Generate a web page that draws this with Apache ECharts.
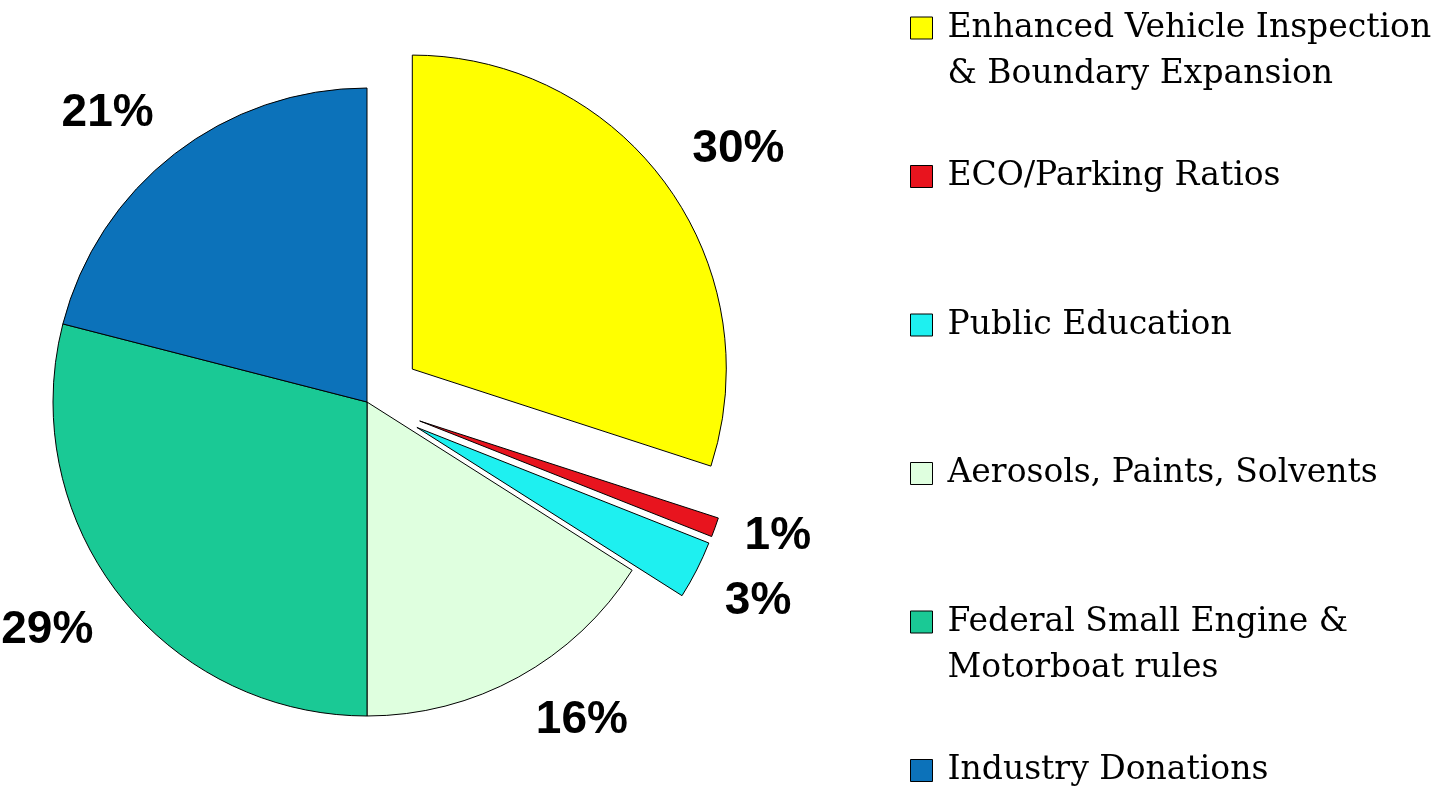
<!DOCTYPE html>
<html>
<head>
<meta charset="utf-8">
<title>Emission reduction shares</title>
<script src="https://cdn.jsdelivr.net/npm/echarts@6/dist/echarts.min.js"></script>
<style>
  html, body { margin: 0; padding: 0; background: #fff; }
  #chart { width: 1443px; height: 791px; }
</style>
</head>
<body>
<div id="chart"></div>
<script>
var categories = [
  'Enhanced Vehicle Inspection & Boundary Expansion',
  'ECO/Parking Ratios',
  'Public Education',
  'Aerosols, Paints, Solvents',
  'Federal Small Engine & Motorboat rules',
  'Industry Donations'
]
var legendLines = [
  ['Enhanced Vehicle Inspection', '& Boundary Expansion'],
  ['ECO/Parking Ratios'],
  ['Public Education'],
  ['Aerosols, Paints, Solvents'],
  ['Federal Small Engine &', 'Motorboat rules'],
  ['Industry Donations']
]
var shares = [30, 1, 3, 16, 29, 21]
var pulledOut = [true, true, true, false, false, false]

var sliceColors = ['#FFFF00', '#E8141E', '#1EF0F0', '#DFFFDF', '#1AC995', '#0C72BA']
var pieCenter = [367, 402]

var chart = echarts.init(document.getElementById('chart'))

var sliceData = categories.map(function (name, i) {
  return { name: name, value: shares[i], selected: pulledOut[i], itemStyle: { color: sliceColors[i] } }
})

var legends = categories.map(function (name, i) {
  // blank first line keeps the icon level with the first text line
  var lines = legendLines[i].length > 1 ? [''].concat(legendLines[i]) : legendLines[i]
  var h = lines.length * 46
  return {
    data: [name],
    left: 910,
    top: 28 + i * 148.5 - h / 2,
    padding: 0,
    orient: 'vertical',
    icon: 'rect',
    itemWidth: 22,
    itemHeight: 22,
    selectedMode: false,
    itemStyle: { borderColor: '#000', borderWidth: 1 },
    formatter: function () {
      return lines.join('\n')
    },
    textStyle: {
      fontFamily: 'DejaVu Serif',
      fontSize: 33,
      lineHeight: 46,
      color: '#000',
      padding: [0, 0, 0, 10]
    }
  }
})

chart.setOption({
  animation: false,
  backgroundColor: '#fff',
  legend: legends,
  series: [
    {
      type: 'pie',
      center: pieCenter,
      radius: 314,
      selectedMode: 'multiple',
      selectedOffset: 56,
      avoidLabelOverlap: false,
      data: sliceData,
      itemStyle: { borderColor: '#000', borderWidth: 1 },
      label: {
        position: 'outside',
        formatter: '{d}%',
        distanceToLabelLine: 5,
        fontFamily: 'Liberation Sans',
        fontWeight: 'bold',
        fontSize: 46,
        lineHeight: 40,
        color: '#000'
      },
      labelLine: { show: false, length: 26, length2: 0 },
      // hang the label box off its inner corner, above or below like the old office charts;
      // labels near the horizontal stay centred on their anchor
      labelLayout: function (p) {
        var dy = p.labelRect.y + p.labelRect.height / 2 - pieCenter[1]
        var va = Math.abs(dy) < 150 ? 'middle' : (dy > 0 ? 'top' : 'bottom')
        return { verticalAlign: va, hideOverlap: false }
      },
      emphasis: { disabled: true }
    }
  ]
})
</script>
</body>
</html>
